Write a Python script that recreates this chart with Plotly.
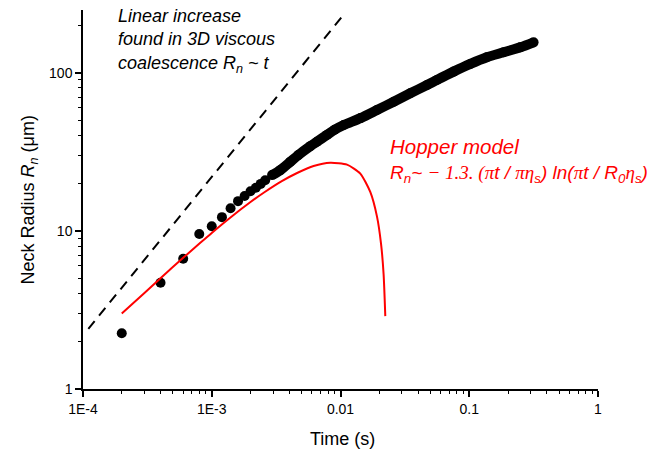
import plotly.graph_objects as go

# Measured neck radius: early, well separated frames (time in s, radius in um)
t_early = [2e-4, 4e-4, 6e-4, 8e-4, 1.0e-3, 1.2e-3, 1.4e-3, 1.6e-3, 1.8e-3,
           2.0e-3, 2.2e-3, 2.4e-3, 2.6e-3]
r_early = [2.25, 4.70, 6.66, 9.55, 10.7, 12.2, 13.9, 15.4, 16.6,
           17.8, 18.7, 19.8, 20.9]

# Measured neck radius: later frames, densely packed
t_late = [2.94e-3, 3.41e-3, 4.07e-3, 4.7e-3, 5.83e-3, 6.57e-3, 7.85e-3,
          9.0e-3, 0.0106, 0.0143, 0.0192, 0.0259, 0.0348, 0.0470, 0.0562,
          0.0756, 0.102, 0.137, 0.185, 0.249, 0.316]
r_late = [22.5, 24.2, 27.3, 30.1, 34.3, 36.6, 40.4,
          43.6, 46.7, 51.6, 58.0, 65.5, 74.0, 83.5, 90.0,
          101.5, 113.5, 125.0, 134.4, 144.5, 155.4]

# Hopper model curve
t_hopper = [2.0e-4, 3.0e-4, 3.98e-4, 6.0e-4, 8.15e-4, 1.0e-3, 1.39e-3,
            2.0e-3, 2.53e-3, 3.5e-3, 4.6e-3, 6.18e-3, 8.33e-3, 0.01123,
            0.01425, 0.01703, 0.01921, 0.02064, 0.02162, 0.02228]
r_hopper = [3.0, 4.05, 5.0, 6.75, 8.4, 9.7, 12.1,
            15.2, 17.4, 20.6, 23.2, 25.7, 26.95, 26.2,
            23.0, 17.6, 12.3, 8.3, 5.3, 2.89]

# Linear growth guide, R ~ t
t_linear = [1.1e-4, 0.0106]
r_linear = [2.4, 233.0]

x_tickvals = [1e-4, 1e-3, 1e-2, 1e-1, 1]
x_ticktext = ["1E-4", "1E-3", "0.01", "0.1", "1"]
y_tickvals = [1, 10, 100]
y_ticktext = ["1", "10", "100"]

FONT = "Liberation Sans, Arial, sans-serif"
SERIF = "font-family:'Liberation Serif', 'Times New Roman', serif"

x_minor = [m * 10 ** e for e in range(-4, 0) for m in range(2, 10)]
y_minor = [m * 10 ** e for e in range(0, 3) for m in range(2, 10)]

fig = go.Figure()

fig.add_trace(go.Scatter(
    x=t_linear, y=r_linear, mode="lines",
    line=dict(color="black", width=2, dash="10px,7px"),
    showlegend=False, hoverinfo="skip"))

fig.add_trace(go.Scatter(
    x=t_late, y=r_late, mode="lines+markers",
    line=dict(color="black", width=10, shape="spline", smoothing=0.8),
    marker=dict(color="black", size=10),
    showlegend=False))

fig.add_trace(go.Scatter(
    x=t_early, y=r_early, mode="markers",
    marker=dict(color="black", size=10),
    showlegend=False))

fig.add_trace(go.Scatter(
    x=t_hopper, y=r_hopper, mode="lines",
    line=dict(color="#ff0000", width=2, shape="spline", smoothing=0.6),
    showlegend=False))

axis_common = dict(
    showline=True, linecolor="black", linewidth=1.5, mirror=False,
    showgrid=False, zeroline=False,
    ticks="outside", ticklen=6, tickwidth=1.5, tickcolor="black",
    tickfont=dict(family=FONT, size=14, color="black"),
)

fig.update_xaxes(
    type="log", range=[-4, 0],
    tickvals=x_tickvals, ticktext=x_ticktext,
    minor=dict(tickvals=x_minor, ticks="outside", ticklen=3,
               tickwidth=1.2, tickcolor="black", showgrid=False),
    **axis_common)

fig.update_yaxes(
    type="log", range=[0, 2.396],
    tickvals=y_tickvals, ticktext=y_ticktext,
    minor=dict(tickvals=y_minor, ticks="outside", ticklen=3,
               tickwidth=1.2, tickcolor="black", showgrid=False),
    **axis_common)

hopper_label = (
    "<span style=\"font-size:20.5px\">Hopper model</span><br>"
    "R<sub>n</sub>~ "
    f"<span style=\"{SERIF}\">− 1.3. (</span>"
    f"<span style=\"{SERIF}\">π</span>t / "
    f"<span style=\"{SERIF}\">πη</span><sub>s</sub>) "
    f"ln(<span style=\"{SERIF}\">π</span>t / R<sub>0</sub>"
    f"<span style=\"{SERIF}\">η</span><sub>s</sub>)"
)

annotations = [
    dict(text="Time (s)", xref="paper", yref="paper", x=0.504, y=-0.132,
         xanchor="center", yanchor="middle", showarrow=False,
         font=dict(family=FONT, size=18, color="black")),
    dict(text="Neck Radius <i>R</i><sub><i>n</i></sub> (μm)",
         xref="paper", yref="paper", x=-0.103, y=0.5, textangle=-90,
         xanchor="center", yanchor="middle", showarrow=False,
         font=dict(family=FONT, size=18, color="black")),
    dict(text="Linear increase<br>found in 3D viscous<br>"
              "coalescence <i>R</i><sub><i>n</i></sub> ~ <i>t</i>",
         xref="paper", yref="paper", x=0.064, y=0.918,
         xanchor="left", yanchor="middle", align="left", showarrow=False,
         font=dict(family=FONT, size=18, color="black", style="italic")),
    dict(text=hopper_label,
         xref="paper", yref="paper", x=0.593, y=0.603,
         xanchor="left", yanchor="middle", align="left", showarrow=False,
         font=dict(family=FONT, size=19, color="#ff0000", style="italic")),
]

fig.update_layout(
    width=669, height=452,
    margin=dict(l=83, r=71, t=10, b=63),
    paper_bgcolor="white", plot_bgcolor="white",
    font=dict(family=FONT, color="black"),
    annotations=annotations,
)

fig.write_html("out.html")
